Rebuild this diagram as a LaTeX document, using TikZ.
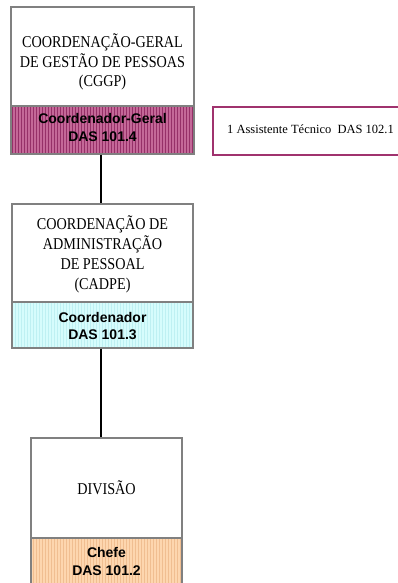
\documentclass[tikz,border=0pt]{standalone}
\usepackage{fontspec}
\setmainfont{Liberation Serif}
\setsansfont{Liberation Sans}
\newfontfamily\narrowserif[FakeStretch=0.86]{Liberation Serif}
\definecolor{magfill}{RGB}{196,104,152}
\definecolor{maggrid}{RGB}{150,48,104}
\definecolor{cyfill}{RGB}{214,252,252}
\definecolor{cygrid}{RGB}{190,240,242}
\definecolor{orfill}{RGB}{253,214,175}
\definecolor{orgrid}{RGB}{240,190,145}
\definecolor{boxgray}{RGB}{128,128,128}
\definecolor{pinkline}{RGB}{160,50,110}
\begin{document}
\begin{tikzpicture}[x=1pt,y=-1pt,
  unitbox/.style={draw=boxgray,line width=1.4pt,rectangle,inner sep=0pt},
  unittext/.style={inner sep=0pt,align=center,font=\narrowserif\fontsize{16.5}{19.5}\selectfont},
  headtext/.style={inner sep=0pt,align=center,font=\sffamily\bfseries\fontsize{14}{18}\selectfont},
  link/.style={draw=black,line width=1.8pt}]
\useasboundingbox (0,0) rectangle (398,583);
% grid patterns
\fill[magfill] (11,106) rectangle (194,154);
\begin{scope}
\clip (11,106) rectangle (194,154);
\draw[maggrid,line width=0.4pt,step=3] (11,106) grid (194,154);
\end{scope}
\fill[cyfill] (12,302) rectangle (193,348);
\begin{scope}
\clip (12,302) rectangle (193,348);
\draw[cygrid,line width=0.4pt,step=3] (12,302) grid (193,348);
\end{scope}
\fill[orfill] (31,538) rectangle (182,590);
\begin{scope}
\clip (31,538) rectangle (182,590);
\draw[orgrid,line width=0.4pt,step=3] (31,538) grid (182,590);
\end{scope}
% top unit
\node[unitbox,minimum width=183pt,minimum height=99pt] (cggp) at (102.5,56.5) {};
\node[unittext] (cggpt) at (102.5,62) {COORDENAÇÃO-GERAL\\DE GESTÃO DE PESSOAS\\(CGGP)};
\node[unitbox,minimum width=183pt,minimum height=48pt] (cggph) at (102.5,130) {};
\node[headtext] (cggpht) at (102.5,127.5) {Coordenador-Geral\\DAS 101.4};
% assistant
\node[draw=pinkline,line width=1.5pt,rectangle,inner sep=0pt,minimum width=190pt,minimum height=48pt] (asst) at (308,131) {};
\node[font=\fontsize{12.5}{15}\selectfont,anchor=west,inner sep=0pt] (assttxt) at (227,129) {1 Assistente Técnico\ \ DAS 102.1};
% second unit
\node[unitbox,minimum width=181pt,minimum height=98pt] (cadpe) at (102.5,253) {};
\node[unittext,font=\narrowserif\fontsize{16.5}{20}\selectfont] (cadpet) at (102.5,254.5) {COORDENAÇÃO DE\\ADMINISTRAÇÃO\\DE PESSOAL\\(CADPE)};
\node[unitbox,minimum width=181pt,minimum height=46pt] (cadpeh) at (102.5,325) {};
\node[headtext,font=\sffamily\bfseries\fontsize{14}{16.5}\selectfont] (cadpeht) at (102.5,326) {Coordenador\\DAS 101.3};
% third unit
\node[unitbox,minimum width=151pt,minimum height=100pt] (div) at (106.5,488) {};
\node[unittext] (divt) at (106.5,488) {DIVISÃO};
\node[unitbox,minimum width=151pt,minimum height=52pt,anchor=north] (divh) at (106.5,538) {};
\node[headtext] (divht) at (106.5,561) {Chefe\\DAS 101.2};
% connectors
\draw[link] (cggph.south -| 101,0) -- (cadpe.north -| 101,0);
\draw[link] (cadpeh.south -| 101,0) -- (div.north -| 101,0);
\end{tikzpicture}
\end{document}
